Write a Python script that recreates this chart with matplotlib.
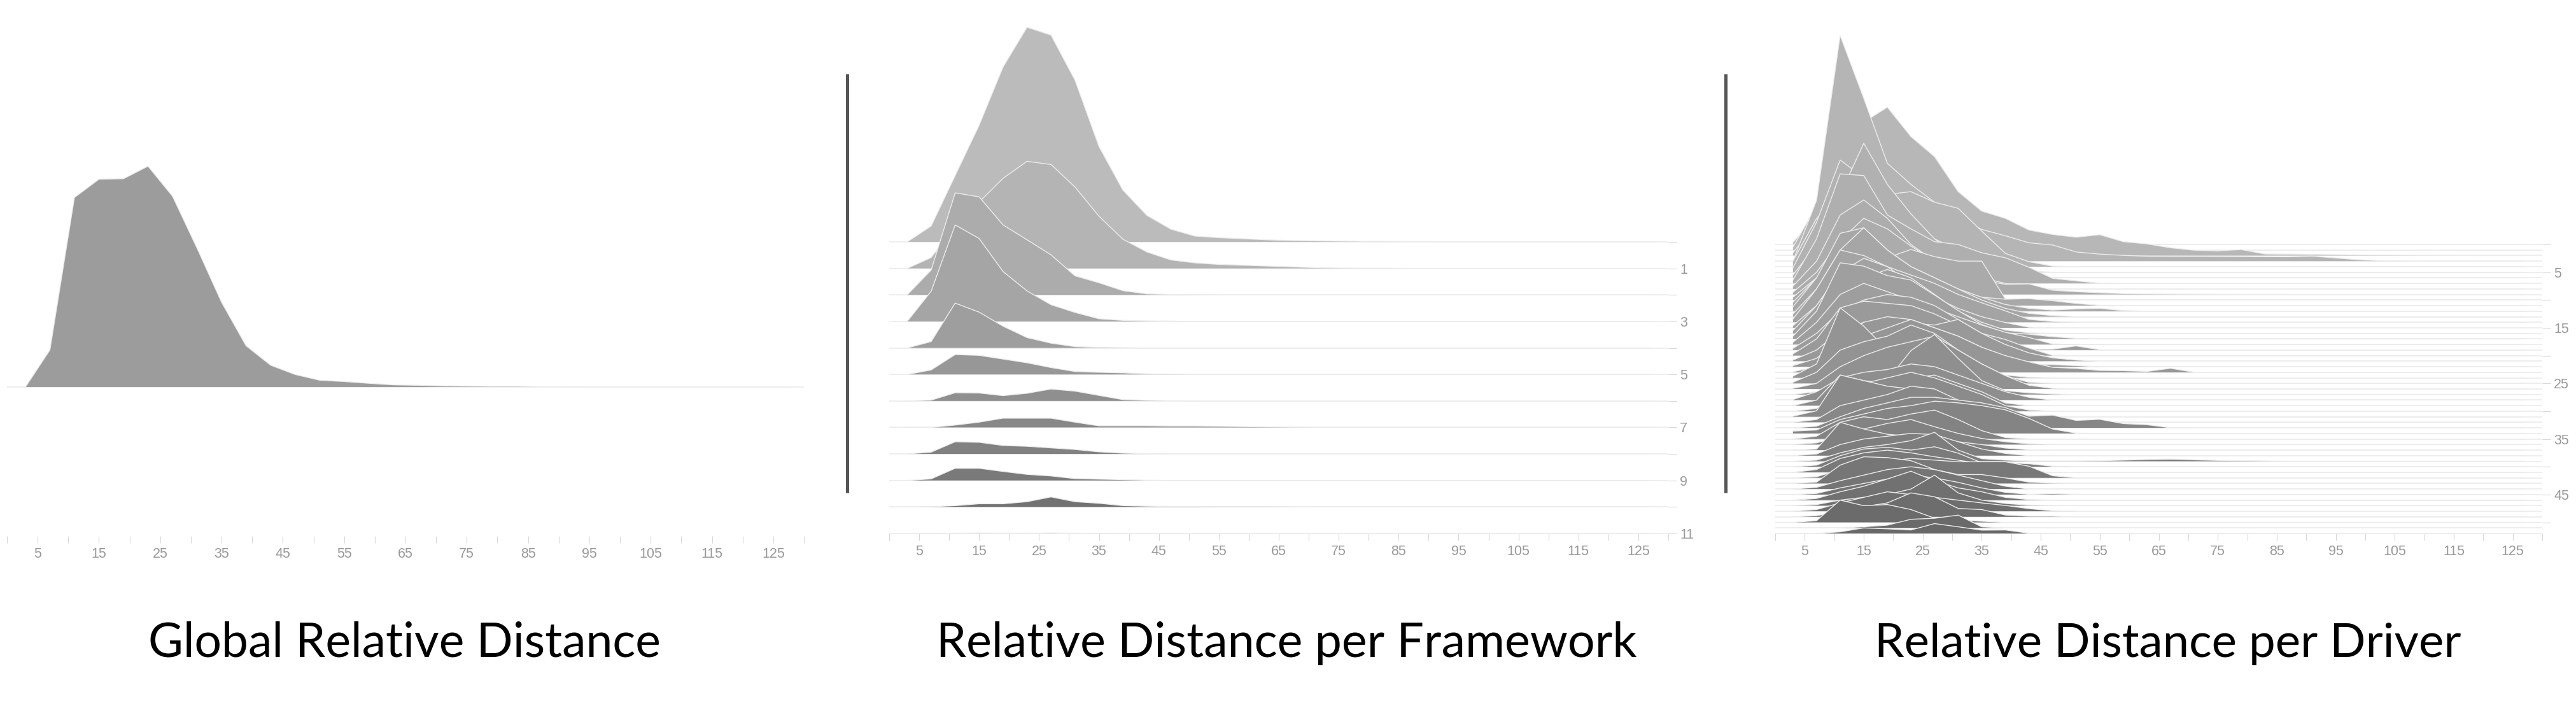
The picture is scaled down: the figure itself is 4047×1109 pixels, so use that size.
import numpy as np
import matplotlib.pyplot as plt
from matplotlib.lines import Line2D

plt.rcParams['font.family'] = ['Liberation Sans', 'DejaVu Sans']

W, H = 4047, 1109

# centres of the 4-wide distance bins
bins = [3, 7, 11, 15, 19, 23, 27, 31, 35, 39, 43, 47, 51, 55, 59, 63,
        67, 71, 75, 79, 83, 87, 91, 95, 99, 103, 107, 111, 115, 119, 123, 127]
xticks = list(range(0, 131, 5))
xlabels = [str(t) if t % 10 == 5 else '' for t in xticks]

# global distribution (peak = 1)
global_density = [0, 0.168, 0.858, 0.941, 0.943, 1.0, 0.864, 0.629, 0.384, 0.187,
                  0.099, 0.057, 0.031, 0.025, 0.017, 0.010, 0.008, 0.005, 0.004,
                  0.003, 0.003, 0.002, 0.002, 0.0015, 0.0015, 0.001, 0.001, 0.001,
                  0.001, 0.001, 0.001, 0.001]

# per framework (row units)
framework_density = [
    [0, 0.6, 2.5, 4.4, 6.6, 8.1, 7.8, 6.1, 3.6, 1.95, 1.0, 0.48, 0.22, 0.16, 0.12,
     0.08, 0.05, 0.04, 0.03, 0.02, 0.02, 0.015, 0.01, 0.01, 0.01, 0.01, 0.005],
    [0, 0.41, 1.6, 2.5, 3.4, 4.04, 3.92, 3.07, 1.97, 1.1, 0.62, 0.32, 0.21, 0.15,
     0.12, 0.09, 0.06, 0.03, 0.015, 0.01, 0.01],
    [0, 0.94, 3.85, 3.7, 2.64, 2.08, 1.51, 0.72, 0.46, 0.16, 0.04, 0.02, 0.01],
    [0, 1.14, 3.64, 3.13, 1.88, 1.15, 0.63, 0.34, 0.10, 0.04, 0.02, 0.01],
    [0, 0.24, 1.69, 1.35, 0.82, 0.39, 0.18, 0.05, 0.02, 0.01],
    [0, 0.17, 0.75, 0.72, 0.58, 0.44, 0.26, 0.11, 0.08, 0.06, 0.02, 0.01],
    [0, 0.03, 0.31, 0.30, 0.20, 0.29, 0.45, 0.37, 0.21, 0.05, 0.02, 0.01],
    [0, 0.0, 0.09, 0.2, 0.35, 0.35, 0.35, 0.2, 0.06, 0.06, 0.06, 0.05, 0.05, 0.04,
     0.03, 0.02, 0.01, 0.005],
    [0, 0.07, 0.46, 0.44, 0.32, 0.29, 0.23, 0.17, 0.08, 0.03, 0.01],
    [0, 0.06, 0.46, 0.46, 0.34, 0.23, 0.17, 0.07, 0.05, 0.03, 0.01],
    [0, 0.01, 0.05, 0.12, 0.12, 0.2, 0.38, 0.2, 0.14, 0.05, 0.03, 0.02, 0.02, 0.01,
     0.01, 0.01, 0.005],
    [0, 0, 0.01, 0.02, 0.01, 0.01, 0.02, 0.01, 0.005],
]

# per driver (row units)
driver_density = [
    [0.4, 5, 14, 16, 12, 8, 5, 3, 1.5, 0.8, 0.3, 0.1],
    [0.5, 8, 20, 18, 14, 10, 6, 4, 2, 1, 0.5, 0.2],
    [0.5, 6, 17, 24, 26.7, 21.4, 17.8, 11.5, 8.0, 6.7, 4.6, 3.8, 3.3, 3.75, 2.5, 2.1,
     1.4, 0.96, 0.85, 1.08, 0.28, 0.25, 0.2, 0.15, 0.1, 0.08, 0.05, 0.03, 0.02],
    [0, 10.95, 40.6, 29.3, 17.6, 13.8, 10.6, 8.0, 5.7, 4.56, 3.3, 2.9, 1.65, 1.26,
     1.03, 0.88, 0.86, 0.85, 0.84, 0.83, 0.8, 0.78, 0.9, 0.57, 0.23, 0.06, 0.02],
    [1.0, 8.7, 13, 14, 13, 13.5, 11.6, 10.5, 6.4, 2.4, 0.9, 0.1],
    [0.8, 9, 20.2, 17, 13, 9, 6, 4, 2, 0.8, 0.2],
    [0.5, 6, 15, 24.2, 16.8, 11.5, 7, 4, 2, 0.8, 0.2],
    [0.6, 8, 19.7, 19.4, 12.3, 9.8, 7.5, 7, 5.5, 4.6, 2.9, 0.9, 0.45, 0.03],
    [0.5, 5, 13.3, 16, 12.7, 8, 5, 3.5, 2, 1, 0.3],
    [0.4, 4, 9.7, 13.7, 11.8, 8.7, 6, 4, 2.5, 1.84, 1.9, 0.77, 0.5, 0.31, 0.15, 0.1,
     0.07, 0.05, 0.04, 0.03, 0.02, 0.01],
    [0.5, 4, 8.6, 10.7, 7.6, 9.1, 7.8, 7.0, 7.0, 0.2],
    [0.6, 5, 8.6, 7.5, 5.4, 4.6, 3.5, 2.5, 1.5, 1.15, 1.26, 0.88, 0.39, 0.05],
    [0.8, 6, 14, 15, 11, 8, 6, 4, 2.5, 1.2, 0.5, 0.2, 0.4, 0.5, 0.1],
    [0.5, 5, 12, 16, 12, 9, 7, 5, 3, 1.5, 0.6, 0.2],
    [0.6, 6, 13, 12, 10, 8.5, 7, 5, 3.5, 2.05, 0.52, 0.14],
    [0.4, 4, 10, 12.5, 11, 8, 5.5, 3.5, 2, 0.95, 0.1],
    [0.5, 5, 11, 10, 11.5, 10, 7, 4, 2, 0.6, 0.1],
    [0.5, 5, 13.7, 13.1, 11.4, 10.6, 7.9, 5.1, 2.6, 1.1, 0.85, 0.4, 0.1],
    [0.4, 4, 9, 11, 9.5, 8, 6.5, 5, 3.5, 2.2, 1.26, 0.1],
    [0.3, 3, 7, 9, 10, 9.5, 8, 5.5, 3, 1.2, 0.1, 0.15, 0.75, 0.05],
    [0.3, 3, 8.6, 9.8, 9.4, 9.0, 7.5, 5.5, 4.0, 2.9, 1.36, 0.05],
    [0.2, 2, 5.5, 7, 7.2, 6.8, 6.5, 7.5, 5, 3, 1.5, 0.6, 0.2],
    [0.2, 1.5, 5, 8, 9, 8.5, 7, 5.5, 3.5, 1.6, 0.37, 0.37, 0.2],
    [0.1, 1, 4, 6.5, 8, 9.5, 8, 6.5, 4.5, 3.0, 1.87, 0.9, 0.7, 0.33, 0.29, 0.15,
     0.72, 0.01],
    [0.3, 2.5, 12.6, 9.3, 5.0, 5.0, 3.8, 2.5, 1.3, 0.5, 0.1],
    [0.2, 2, 6, 7.5, 8.5, 10.5, 9, 6, 3.5, 1.38, 0.2],
    [0.1, 1, 4, 6, 7.5, 8.5, 9.5, 7, 4.5, 2.4, 0.67, 0.1],
    [0, 0.5, 2, 2.5, 2.6, 7.9, 10.8, 6.5, 2.5, 0.71, 0.3, 0.1],
    [0.1, 1.5, 4, 5, 5.5, 6.5, 6, 4.5, 3, 1.5, 0.5],
    [0, 1, 5.5, 4.5, 4, 5, 5.5, 4, 2.5, 0.48],
    [0, 0.5, 3, 5, 6, 7, 6, 4.5, 3, 1, 0.2],
    [0.1, 1.07, 7.5, 6.5, 5.5, 5, 4, 3, 2, 0.8, 0.2],
    [0, 0.5, 3, 4, 5, 6.5, 6, 4, 2.5, 1, 0.3],
    [0, 0.3, 2, 3.5, 4.5, 5.5, 5.5, 5, 4.5, 3.64, 2.1, 2.3, 1.34, 1.54, 0.77, 0.57,
     0.02],
    [0.42, 0.62, 2.5, 3.5, 4.5, 5, 5.8, 5.5, 5, 4.25, 2.7, 0.8, 0.05],
    [0, 0.5, 3, 4, 3.5, 4.5, 5.2, 3.5, 1.5, 0.27],
    [0, 0.3, 1.5, 2.8, 3.8, 4.5, 3.2, 2.0, 1.1, 0.5, 0.12],
    [0, 0.17, 5.0, 3.8, 2.85, 2.5, 2.2, 1.5, 1, 0.37, 0.05],
    [0, 0.3, 2, 3, 3.5, 4, 3.8, 2.5, 1.2, 0.4],
    [0, 0.2, 1.5, 2.5, 3, 3.7, 5.2, 2.0, 0.45, 0.2, 0.05, 0.05, 0.05, 0.1, 0.2, 0.3,
     0.37, 0.25, 0.15, 0.1, 0.05],
    [0, 0.3, 2, 3.2, 3.5, 3, 3.6, 2.45, 0.72, 0.72, 0.54, 0.1],
    [0, 0.5, 2.5, 3.5, 4, 3.5, 2.8, 2.2, 1.5, 0.8, 0.2],
    [0, 0.2, 1.5, 2.5, 3, 3.5, 3.2, 2.9, 2.9, 2.9, 2.1, 0.39],
    [0, 0.24, 3.3, 4.8, 4.65, 4.1, 2.5, 1.6, 1.6, 1.0, 0.24, 0.05],
    [0, 0.3, 1.5, 2.5, 3.5, 4.0, 3.5, 2.5, 1.5, 0.5],
    [0, 0.2, 1.2, 2, 2.8, 3.5, 3.0, 2.2, 1.2, 0.4, 0.05, 0.15, 0.05],
    [0, 0.3, 1.5, 2.5, 3.8, 5.2, 3.5, 2.2, 1.5, 0.5, 0.1],
    [0, 0.2, 1, 1.5, 2, 3, 5.5, 2.3, 1.0, 0.4, 0.1],
    [0, 0.3, 1.5, 2.5, 3.5, 3.0, 2.5, 2.0, 1.5, 1.04, 0.47, 0.08],
    [0, 0.2, 1.0, 1.8, 2.5, 4.3, 3.6, 1.5, 1.3, 0.32, 0.1, 0.1],
    [0, 0.3, 4.0, 3.0, 3.2, 2.3, 0.75, 0.4, 0.2],
    [0, 0, 0, 0.2, 0.5, 1.55, 1.74, 2.3, 0.2],
    [0, 0, 0.3, 1.0, 0.83, 0.63, 1.78, 1.2, 0.6, 0.63, 0.05],
]

titles = ['Global Relative Distance', 'Relative Distance per Framework',
          'Relative Distance per Driver']

fig = plt.figure(figsize=(W / 100, H / 100), dpi=100)

TICK_C = '#d8d8d8'
LABEL_C = '#999999'


def make_axes(x0, x1, top, step, axis_y):
    # x0/x1: pixel position of 0 and 130, top: pixel of first baseline, step: px per unit
    ax = fig.add_axes([x0 / W, 0, (x1 - x0) / W, 1])
    ax.set_xlim(0, 130)
    ax.set_ylim((top - H) / step, top / step)
    ax.patch.set_alpha(0)
    for s in ax.spines.values():
        s.set_color('none')
    ax.spines['bottom'].set_position(('data', (top - axis_y) / step))
    ax.set_xticks(xticks)
    ax.set_xticklabels(xlabels)
    ax.tick_params(axis='x', direction='out', length=8, width=0.8, color=TICK_C,
                   labelcolor=LABEL_C, labelsize=15.5, pad=5)
    return ax


def ridges(ax, rows, greys):
    for r, vals in enumerate(rows):
        v = np.zeros(len(bins))
        v[:len(vals)] = vals
        base = -r
        z = 3 * r
        ax.plot([0, 130], [base, base], color='#e9e9e9', lw=1.1, zorder=z + 1,
                solid_capstyle='butt')
        ax.fill_between(bins, base, base + v, facecolor=greys[r], edgecolor='none',
                        zorder=z + 2)
        ax.plot(bins, base + v, color='#ececec', lw=1.0, zorder=z + 3)


def right_ticks(ax, rows, every, labelled):
    ax.yaxis.set_ticks_position('right')
    ax.spines['right'].set_position(('data', 130))
    pos = [r for r in range(rows) if r % every == 0 or r in labelled]
    ax.set_yticks([-r for r in pos])
    ax.set_yticklabels([str(r) if r in labelled else '' for r in pos])
    ax.tick_params(axis='y', direction='out', length=9, width=0.8, color=TICK_C,
                   labelcolor=LABEL_C, labelsize=15.5, pad=4)


# panel 1
ax1 = make_axes(11, 1263, 608, 347, 842)
ridges(ax1, [global_density], ['#9c9c9c'])
ax1.set_yticks([])

# panel 2
n2 = len(framework_density)
ax2 = make_axes(1397, 2621, 380, (838 - 380) / (n2 - 1), 838)
g2 = [str(c) for c in np.linspace(187, 107, n2) / 255]
ridges(ax2, framework_density, g2)
right_ticks(ax2, n2, 1, [1, 3, 5, 7, 9, 11])

# panel 3
n3 = len(driver_density)
ax3 = make_axes(2789, 3994, 384, (838 - 384) / (n3 - 1), 838)
g3 = [str(c) for c in np.linspace(186, 104, n3) / 255]
ridges(ax3, driver_density, g3)
right_ticks(ax3, n3, 5, [5, 15, 25, 35, 45])

# dark separators
for xb in (1331, 2711):
    fig.add_artist(Line2D([xb / W, xb / W], [1 - 116 / H, 1 - 774 / H],
                          color='#555555', lw=3.6, solid_capstyle='butt'))

# titles, scaled to the width they take in the original
fig.canvas.draw()
renderer = fig.canvas.get_renderer()
for text, cx, width in zip(titles, [635, 2021, 3406], [805, 1100, 921]):
    t = fig.text(cx / W, 1 - 1032 / H, text, ha='center', va='baseline',
                 fontsize=50, family=['Lato', 'DejaVu Sans'], color='black')
    w = t.get_window_extent(renderer).width
    t.set_fontsize(50 * width / w)

fig.savefig('out.png', dpi=100)
